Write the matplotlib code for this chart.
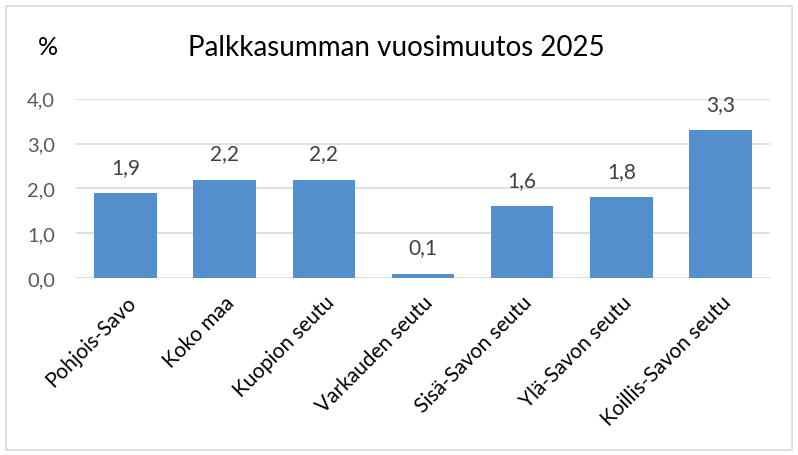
import matplotlib.pyplot as plt
from matplotlib.patches import Rectangle

plt.rcParams['font.family'] = ['Lato', 'DejaVu Sans']

alueet = ['Pohjois-Savo', 'Koko maa', 'Kuopion seutu', 'Varkauden seutu',
          'Sisä-Savon seutu', 'Ylä-Savon seutu', 'Koillis-Savon seutu']
muutos = [1.9, 2.2, 2.2, 0.1, 1.6, 1.8, 3.3]
y_ticks = [0.0, 1.0, 2.0, 3.0, 4.0]


def fi(v):
    return f'{v:.1f}'.replace('.', ',')


fig = plt.figure(figsize=(7.98, 4.56), dpi=100)
ax = fig.add_axes([0.095, 0.388, 0.87, 0.393])

x = range(len(alueet))
bars = ax.bar(x, muutos, width=0.63, color='#538FCC', zorder=3)
for b, v in zip(bars, muutos):
    ax.text(b.get_x() + b.get_width() / 2, v + 0.36, fi(v), ha='center', va='bottom',
            fontsize=15, color='#404040')

ax.set_ylim(0, 4)
ax.set_xlim(-0.5, len(alueet) - 0.5)
ax.set_yticks(y_ticks)
ax.set_yticklabels([fi(t) for t in y_ticks], fontsize=14.5, color='#595959')
ax.set_xticks(list(x))
ax.set_xticklabels(alueet, rotation=45, ha='right', rotation_mode='anchor',
                   fontsize=15, color='black')
ax.tick_params(axis='y', length=0, pad=15)
ax.tick_params(axis='x', length=0, pad=10)
ax.yaxis.grid(True, color='#D9D9D9', linewidth=1.2, zorder=0)
ax.set_axisbelow(True)
for s in ax.spines.values():
    s.set_visible(False)

fig.text(0.497, 0.895, 'Palkkasumman vuosimuutos 2025', ha='center', va='center',
         fontsize=20, color='black')
fig.text(0.06, 0.895, '%', ha='center', va='center', fontsize=18, color='black')

fig.patches.append(Rectangle((0.008, 0.012), 0.984, 0.972, transform=fig.transFigure,
                             fill=False, edgecolor='#D9D9D9', linewidth=1.2))

fig.savefig('out.png', dpi=100)
